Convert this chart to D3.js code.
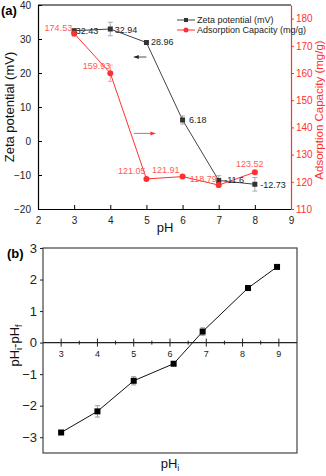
<!DOCTYPE html>
<html><head><meta charset="utf-8">
<script src="https://cdn.jsdelivr.net/npm/d3@7"></script>
<style>body{margin:0;background:#fff}svg{display:block;font-family:Arial,"Liberation Sans",sans-serif}</style>
</head><body>
<svg id="c" width="326" height="476"></svg>
<script>
// ---- data (a)
const phA = [3, 4, 5, 6, 7, 8];
const zeta = [32.43, 32.94, 28.96, 6.18, -11.6, -12.73];
const zetaErr = [0.6, 2.0, 0.5, 1.2, 1.4, 2.0];
const adsorption = [174.53, 159.93, 121.05, 121.91, 118.79, 123.52];
const adsErr = [1.0, 3.0, 0.5, 0.5, 0.8, 0.5];
const zetaLabels = ["32.43", "32.94", "28.96", "6.18", "-11.6", "-12.73"];
const adsLabels = ["174.53", "159.93", "121.05", "121.91", "118.79", "123.52"];
const xTicksA = [2, 3, 4, 5, 6, 7, 8, 9];
const yTicksA = [-20, -10, 0, 10, 20, 30, 40];
const yTicksA2 = [110, 120, 130, 140, 150, 160, 170, 180];
// ---- data (b)
const phI = [3, 4, 5, 6.1, 6.9, 8.15, 8.95];
const dPH = [-2.85, -2.18, -1.21, -0.67, 0.35, 1.73, 2.4];
const dPHErr = [0.06, 0.18, 0.13, 0.06, 0.12, 0.07, 0.05];
const xTicksB = [3, 4, 5, 6, 7, 8, 9];
const yTicksB = [-3, -2, -1, 0, 1, 2, 3];

// layout for data labels (anchor, dx, dy)
const zetaLabelPos = [["start",-1,3],["start",2,4],["start",2,2],["start",4,3],["start",3,3],["start",3,4]];
const adsLabelPos = [["end",-2,-2],["end",0,-4],["end",-1,-5],["end",-3,-4],["end",-2,-3],["middle",-5,-5]];

const svg = d3.select("#c");
const RED = "#ff3030", GREY = "#444";
const fmt = d3.format("d");

// ================= (a)
const A = {l: 38, r: 291, t: 5, b: 209};
const xa = d3.scaleLinear().domain([2, 9]).range([A.l, A.r]);
const ya = d3.scaleLinear().domain([-20, 40]).range([A.b, A.t]);
const ya2 = d3.scaleLinear().domain([110, 185]).range([A.b, A.t]);

const ga = svg.append("g");
ga.append("line").attr("x1", A.l).attr("x2", A.r).attr("y1", A.t).attr("y2", A.t).attr("stroke", "#000").attr("stroke-width", 1.2);

const axB = ga.append("g").attr("transform", `translate(0,${A.b})`)
  .call(d3.axisBottom(xa).tickValues(xTicksA).tickFormat(fmt).tickSizeInner(-4).tickSizeOuter(0).tickPadding(8));
const axL = ga.append("g").attr("transform", `translate(${A.l},0)`)
  .call(d3.axisLeft(ya).tickValues(yTicksA).tickFormat(fmt).tickSizeInner(-4).tickSizeOuter(0).tickPadding(7));
const axR = ga.append("g").attr("transform", `translate(${A.r},0)`)
  .call(d3.axisRight(ya2).tickValues(yTicksA2).tickFormat(fmt).tickSizeInner(3).tickSizeOuter(0).tickPadding(2));
[axB, axL].forEach(g => {
  g.select(".domain").attr("stroke", "#000").attr("stroke-width", 1.2);
  g.selectAll(".tick line").attr("stroke", "#000");
  g.selectAll(".tick text").attr("font-size", 10).attr("fill", "#222");
});
axR.select(".domain").attr("stroke", RED).attr("stroke-width", 1.2);
axR.selectAll(".tick line").attr("stroke", RED);
axR.selectAll(".tick text").attr("font-size", 10).attr("fill", RED);

ga.append("text").attr("transform", `translate(14,${(A.t + A.b) / 2}) rotate(-90)`)
  .attr("text-anchor", "middle").attr("font-size", 13).attr("fill", "#111").text("Zeta potential (mV)");
ga.append("text").attr("transform", `translate(323,${(A.t + A.b) / 2 + 3}) rotate(-90)`)
  .attr("text-anchor", "middle").attr("font-size", 11.5).attr("fill", RED).text("Adsorption Capacity (mg/g)");
ga.append("text").attr("x", 165).attr("y", 232).attr("text-anchor", "middle").attr("font-size", 13).attr("fill", "#111").text("pH");
svg.append("text").attr("x", 1).attr("y", 15).attr("font-size", 13).attr("font-weight", "bold").text("(a)");

const lineZ = d3.line().x((d, i) => xa(phA[i])).y(d => ya(d));
ga.append("path").datum(zeta).attr("d", lineZ).attr("fill", "none").attr("stroke", GREY).attr("stroke-width", 1);
const lineA = d3.line().x((d, i) => xa(phA[i])).y(d => ya2(d));
ga.append("path").datum(adsorption).attr("d", lineA).attr("fill", "none").attr("stroke", RED).attr("stroke-width", 1);

function errBar(g, x, y1, y2, col) {
  g.append("line").attr("x1", x).attr("x2", x).attr("y1", y1).attr("y2", y2).attr("stroke", col).attr("stroke-width", 0.8);
  [y1, y2].forEach(y => g.append("line").attr("x1", x - 2.5).attr("x2", x + 2.5).attr("y1", y).attr("y2", y).attr("stroke", col).attr("stroke-width", 0.8));
}
zeta.forEach((v, i) => errBar(ga, xa(phA[i]), ya(v - zetaErr[i]), ya(v + zetaErr[i]), "#999"));
adsorption.forEach((v, i) => errBar(ga, xa(phA[i]), ya2(v - adsErr[i]), ya2(v + adsErr[i]), "#f88"));

zeta.forEach((v, i) => ga.append("rect").attr("x", xa(phA[i]) - 2.5).attr("y", ya(v) - 2.5).attr("width", 5).attr("height", 5).attr("fill", "#333"));
adsorption.forEach((v, i) => ga.append("circle").attr("cx", xa(phA[i])).attr("cy", ya2(v)).attr("r", 3).attr("fill", RED));

zeta.forEach((v, i) => {
  const p = zetaLabelPos[i];
  ga.append("text").attr("x", xa(phA[i]) + 2.5 + p[1]).attr("y", ya(v) + p[2]).attr("text-anchor", p[0])
    .attr("font-size", 9).attr("fill", "#222").text(zetaLabels[i]);
});
adsorption.forEach((v, i) => {
  const p = adsLabelPos[i];
  ga.append("text").attr("x", xa(phA[i]) + p[1]).attr("y", ya2(v) + p[2]).attr("text-anchor", p[0])
    .attr("font-size", 9).attr("fill", "#ff5a5a").text(adsLabels[i]);
});

function arrow(g, x1, x2, y, col) {
  g.append("line").attr("x1", x1).attr("x2", x2).attr("y1", y).attr("y2", y).attr("stroke", col).attr("stroke-width", 0.8);
  const d = x2 > x1 ? -1 : 1;
  g.append("path").attr("d", `M${x2},${y} L${x2 + d * 5},${y - 2} L${x2 + d * 5},${y + 2} Z`).attr("fill", col);
}
arrow(ga, xa(5.0), xa(4.65), ya(24.7), "#222");
arrow(ga, xa(4.65), xa(5.25), ya2(137.8), RED);

const lg = ga.append("g");
lg.append("line").attr("x1", 177).attr("x2", 195).attr("y1", 20).attr("y2", 20).attr("stroke", GREY);
lg.append("rect").attr("x", 184).attr("y", 18).attr("width", 4).attr("height", 4).attr("fill", "#333");
lg.append("text").attr("x", 197).attr("y", 23).attr("font-size", 9).attr("fill", "#222").text("Zeta potential (mV)");
lg.append("line").attr("x1", 177).attr("x2", 195).attr("y1", 30).attr("y2", 30).attr("stroke", RED);
lg.append("circle").attr("cx", 186).attr("cy", 30).attr("r", 2.5).attr("fill", RED);
lg.append("text").attr("x", 197).attr("y", 33).attr("font-size", 9).attr("fill", "#222").text("Adsorption Capacity (mg/g)");

// ================= (b)
const B = {l: 43, r: 297, t: 248, b: 453};
const xb = d3.scaleLinear().domain([2.5, 9.5]).range([B.l, B.r]);
const yb = d3.scaleLinear().domain([-3.5, 3]).range([B.b, B.t]);
const gb = svg.append("g");
gb.append("rect").attr("x", B.l).attr("y", B.t).attr("width", B.r - B.l).attr("height", B.b - B.t)
  .attr("fill", "none").attr("stroke", "#444").attr("stroke-width", 1.2);

const bL = gb.append("g").attr("transform", `translate(${B.l},0)`)
  .call(d3.axisLeft(yb).tickValues(yTicksB).tickFormat(fmt).tickSizeInner(3).tickSizeOuter(0).tickPadding(3));
bL.select(".domain").remove();
bL.selectAll(".tick line").attr("stroke", "#222");
bL.selectAll(".tick text").attr("font-size", 13).attr("fill", "#222");

const y0 = yb(0);
gb.append("line").attr("x1", B.l).attr("x2", B.r).attr("y1", y0).attr("y2", y0).attr("stroke", "#222").attr("stroke-width", 1.2);
const minorB = d3.range(3.5, 9.5, 1);
minorB.forEach(v => gb.append("line").attr("x1", xb(v)).attr("x2", xb(v)).attr("y1", y0 - 2).attr("y2", y0 + 2).attr("stroke", "#222"));
xTicksB.forEach(v => {
  gb.append("line").attr("x1", xb(v)).attr("x2", xb(v)).attr("y1", y0 - 4).attr("y2", y0 + 4).attr("stroke", "#222");
  gb.append("text").attr("x", xb(v)).attr("y", y0 + 14).attr("text-anchor", "middle").attr("font-size", 9).attr("fill", "#222").text(v);
});

const lineB = d3.line().x((d, i) => xb(phI[i])).y(d => yb(d));
gb.append("path").datum(dPH).attr("d", lineB).attr("fill", "none").attr("stroke", "#111").attr("stroke-width", 1);
dPH.forEach((v, i) => errBar(gb, xb(phI[i]), yb(v - dPHErr[i]), yb(v + dPHErr[i]), "#888"));
dPH.forEach((v, i) => gb.append("rect").attr("x", xb(phI[i]) - 3).attr("y", yb(v) - 3).attr("width", 6).attr("height", 6).attr("fill", "#000"));

svg.append("text").attr("x", 7).attr("y", 258).attr("font-size", 13).attr("font-weight", "bold").text("(b)");
const yt = gb.append("text").attr("transform", `translate(19,${(B.t + B.b) / 2 - 5}) rotate(-90)`)
  .attr("text-anchor", "middle").attr("font-size", 13).attr("fill", "#111");
yt.append("tspan").text("pH");
yt.append("tspan").attr("font-size", 9).attr("dy", 3).text("i");
yt.append("tspan").attr("dy", -3).text("-pH");
yt.append("tspan").attr("font-size", 9).attr("dy", 3).text("f");
const xt = gb.append("text").attr("x", 170).attr("y", 468).attr("text-anchor", "middle").attr("font-size", 13).attr("fill", "#111");
xt.append("tspan").text("pH");
xt.append("tspan").attr("font-size", 9).attr("dy", 3).text("i");
</script>
</body></html>
